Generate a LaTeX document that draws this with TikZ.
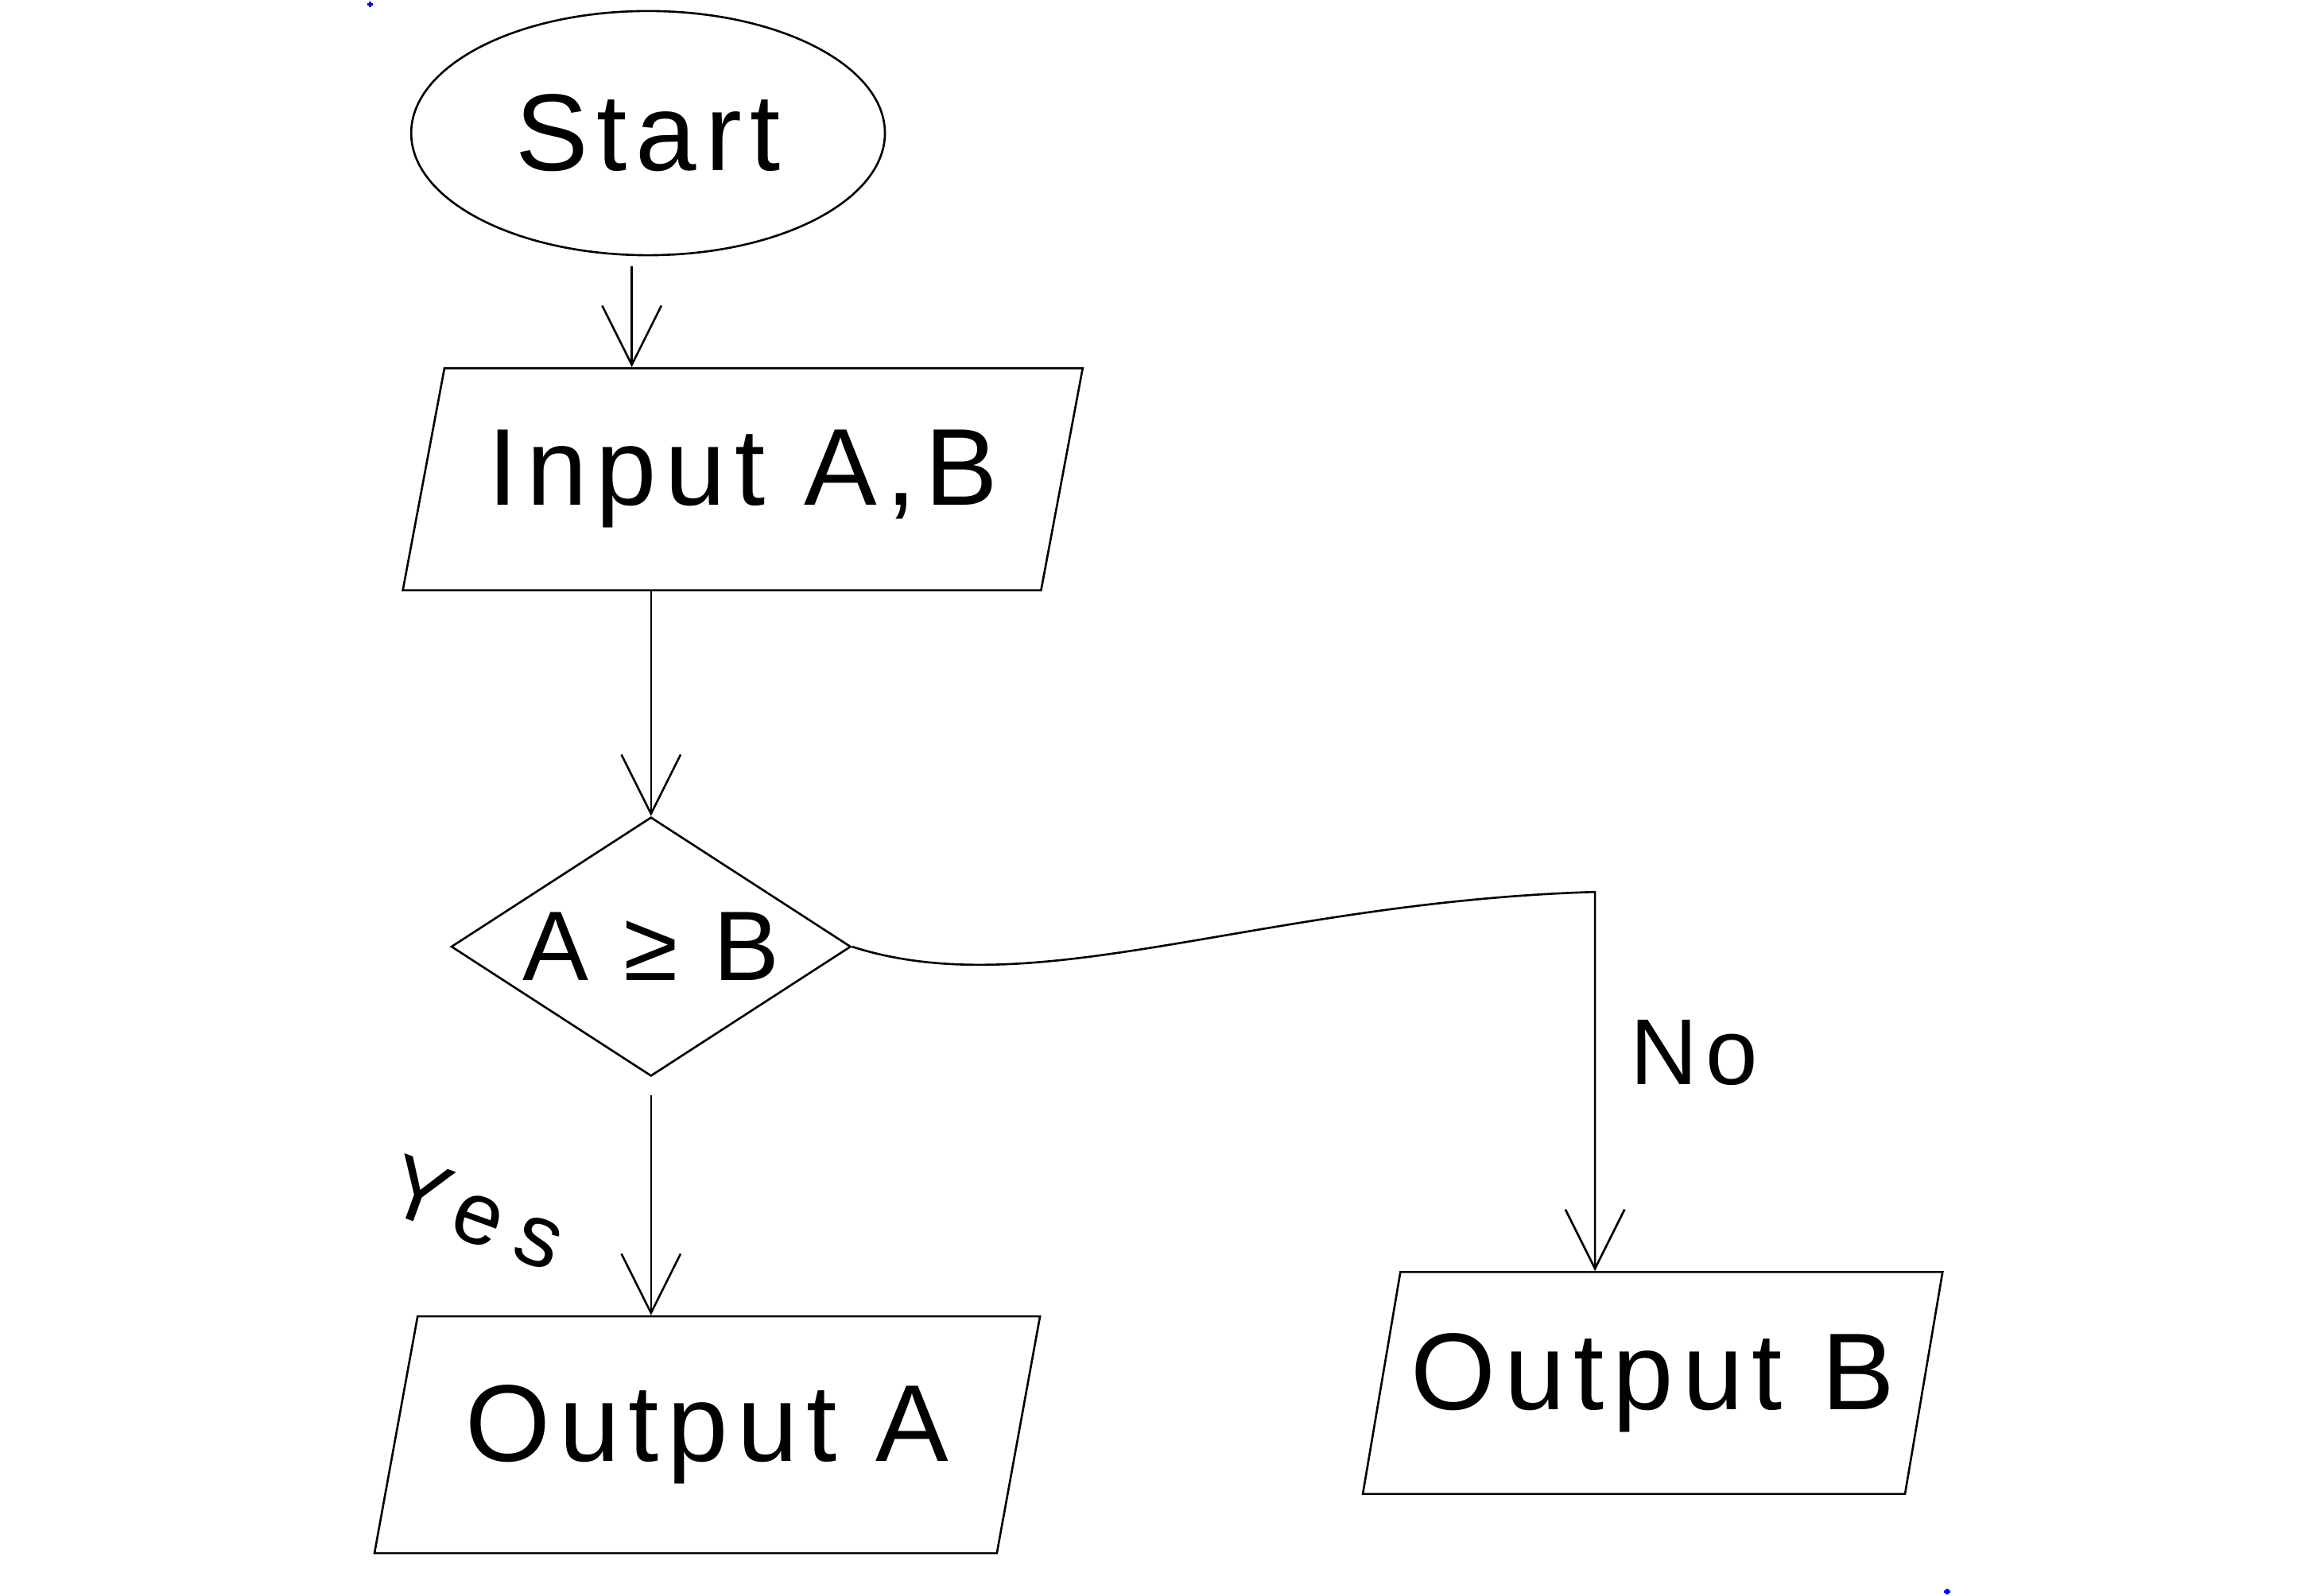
\documentclass[tikz,border=0pt]{standalone}
\usepackage{fontspec}
\setmainfont{Liberation Sans}[LetterSpace=8]
\usetikzlibrary{shapes.geometric, arrows.meta, positioning}

\begin{document}
\begin{tikzpicture}[x=0.01cm, y=-0.01cm, line width=0.4pt,
    bigtext/.style={font=\fontsize{21}{25}\selectfont},
    io/.style={trapezium, draw, trapezium left angle=70, trapezium right angle=110,
        trapezium stretches=true, inner sep=0pt, bigtext},
    flow/.style={-{Straight Barb[length=4mm, width=4mm]}},
    answer/.style={font=\fontsize{18}{22}\selectfont}]
    \useasboundingbox (0,0) rectangle (1568,1079);

    % Corner marks
    \draw[blue, line width=0.5pt] (248,3) -- (252,3) (250,1) -- (250,5);
    \draw[blue, line width=0.5pt] (1314,1076) -- (1318,1076) (1316,1074) -- (1316,1078);

    % Shapes
    \node[ellipse, draw, minimum width=3.2cm, minimum height=1.65cm, bigtext] (start) at (438,90) {Start};
    \node[io, minimum width=4.6cm, minimum height=1.5cm] (input) at (502,324) {Input A,B};
    \node[diamond, draw, aspect=1.54, minimum width=2.7cm, minimum height=1.75cm, inner sep=0pt,
        font=\fontsize{19}{23}\selectfont] (check) at (440,640) {A ≥ B};
    \node[io, minimum width=4.5cm, minimum height=1.6cm] (outa) at (478,970) {Output A};
    \node[io, minimum width=3.92cm, minimum height=1.5cm] (outb) at (1117,935) {Output B};
    \coordinate (nocorner) at (1078,603);

    % Connectors
    \draw[flow, shorten <=0.07cm] (start.south -| 427,0) -- (input.north -| 427,0);
    \draw[flow] (input.south -| check.north) -- (check.north);
    \draw[flow, shorten <=0.12cm] (check.south) -- (outa.north -| check.south);
    \draw[flow] (check.east) .. controls (700,680) and (850,610) .. (nocorner) -- (nocorner |- outb.north);

    % Answers
    \node[answer, rotate=-20, font=\fontsize{17}{21}\selectfont\addfontfeatures{LetterSpace=20}] (yes) at (322,820) {Yes};
    \node[answer] (no) at (1145,712) {No};
\end{tikzpicture}
\end{document}
